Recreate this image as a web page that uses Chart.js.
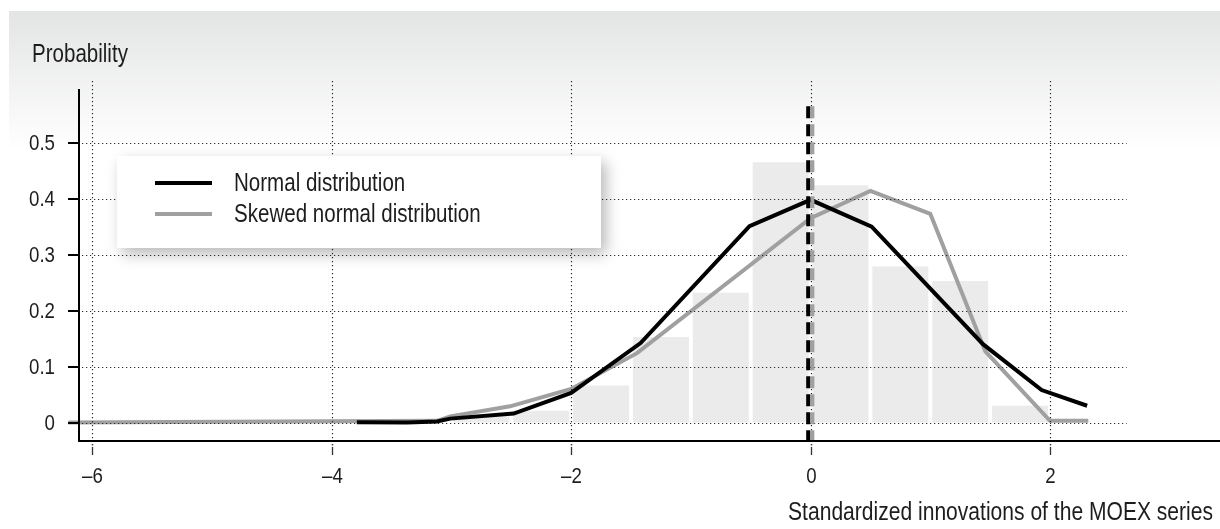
<!DOCTYPE html>
<html>
<head>
<meta charset="utf-8">
<script src="https://cdn.jsdelivr.net/npm/chart.js@4.4.1/dist/chart.umd.min.js"></script>
<style>
  html, body { margin: 0; padding: 0; background: #fff; }
  canvas { display: block; }
</style>
</head>
<body>
<canvas id="chart" width="1220" height="529"></canvas>
<script>
// Histogram of standardized innovations: bin centres (bin width 0.5) and probabilities
const binCenters = [-2.75, -2.25, -1.75, -1.25, -0.75, -0.25, 0.25, 0.75, 1.25, 1.75];
const binProb    = [0.011, 0.021, 0.066, 0.153, 0.232, 0.465, 0.424, 0.279, 0.253, 0.030];

// Fitted normal density
const normalX = [-3.79, -3.37, -3.12, -3.01, -2.48, -2.0, -1.42, -0.51, 0.0, 0.51, 1.44, 1.93, 2.31];
const normalP = [0.0005, 0.0, 0.002, 0.007, 0.016, 0.053, 0.142, 0.351, 0.398, 0.350, 0.140, 0.058, 0.030];

// Fitted skewed normal density
const skewX = [-6.2, -3.12, -3.01, -2.51, -2.0, -1.45, 0.0, 0.50, 1.0, 1.46, 2.0, 2.32];
const skewP = [0.0, 0.003, 0.011, 0.029, 0.060, 0.124, 0.365, 0.414, 0.373, 0.127, 0.003, 0.003];

// Means of the two fitted distributions, drawn as dashed verticals
const normalMean = -0.02;
const skewMean = 0.015;
const meanSpan = [0.565, -0.033];

// Axes
const xTicks = [-6, -4, -2, 0, 2];
const xTickLabels = ['–6', '–4', '–2', '0', '2'];
const yTicks = [0, 0.1, 0.2, 0.3, 0.4, 0.5];
const yTickLabels = ['0', '0.1', '0.2', '0.3', '0.4', '0.5'];
const xRange = [-6.111, 3.42];
const yRange = [-0.033, 0.6103];
const gridEndX = 2.64;

const seriesNames = ['Normal distribution', 'Skewed normal distribution'];
const yTitle = 'Probability';
const xTitle = 'Standardized innovations of the MOEX series';

const FONT = "'Liberation Sans', Arial, sans-serif";
const TEXT = '#1d1d1d';
const BLACK = '#000000';
const GREY = '#a0a0a0';
const BAR = '#eaebea';

const pairs = (xs, ys) => xs.map((x, i) => ({ x: x, y: ys[i] }));

// Draws horizontally condensed text (narrow grotesque look)
function condensedText(ctx, str, x, y, opts) {
  ctx.save();
  ctx.font = opts.size + 'px ' + FONT;
  ctx.textAlign = opts.align || 'left';
  ctx.textBaseline = opts.baseline || 'middle';
  ctx.fillStyle = opts.color || TEXT;
  ctx.translate(x, y);
  ctx.scale(opts.sx || 0.8, 1);
  ctx.fillText(str, 0, 0);
  ctx.restore();
}

function drawGrid(chart) {
  const { ctx, chartArea: a } = chart;
  const xs = chart.scales.x, ys = chart.scales.y;
  ctx.save();
  ctx.strokeStyle = '#2a2a2a';
  ctx.lineWidth = 1.2;
  ctx.setLineDash([1.2, 2.8]);
  xTicks.forEach(v => {
    const px = Math.round(xs.getPixelForValue(v)) + 0.5;
    ctx.beginPath();
    ctx.moveTo(px, a.top);
    ctx.lineTo(px, a.bottom);
    ctx.stroke();
  });
  const xEnd = xs.getPixelForValue(gridEndX);
  yTicks.forEach(v => {
    const py = Math.round(ys.getPixelForValue(v)) + 0.5;
    ctx.beginPath();
    ctx.moveTo(a.left + 3, py);
    ctx.lineTo(xEnd, py);
    ctx.stroke();
  });
  ctx.restore();
}

const decor = {
  id: 'decor',
  beforeDraw(chart) {
    const ctx = chart.ctx;
    ctx.save();
    ctx.fillStyle = '#ffffff';
    ctx.fillRect(0, 0, chart.width, chart.height);
    const g = ctx.createLinearGradient(0, 11, 0, 150);
    g.addColorStop(0, '#e3e4e4');
    g.addColorStop(1, '#ffffff');
    ctx.fillStyle = g;
    ctx.fillRect(9, 11, chart.width - 9, 139);
    ctx.restore();
  },
  afterDatasetDraw(chart, args) {
    if (args.index === 1) drawGrid(chart);
  },
  afterDraw(chart) {
    const { ctx, chartArea: a } = chart;
    const xs = chart.scales.x, ys = chart.scales.y;
    ctx.save();
    ctx.setLineDash([]);

    // axis lines
    ctx.strokeStyle = BLACK;
    ctx.lineWidth = 2;
    ctx.beginPath();
    ctx.moveTo(a.left, a.top + 8);
    ctx.lineTo(a.left, a.bottom + 1);
    ctx.stroke();
    ctx.beginPath();
    ctx.moveTo(a.left - 1, a.bottom);
    ctx.lineTo(a.right, a.bottom);
    ctx.stroke();

    // y ticks and labels
    yTicks.forEach((v, i) => {
      const py = Math.round(ys.getPixelForValue(v));
      ctx.beginPath();
      ctx.moveTo(a.left - 11, py);
      ctx.lineTo(a.left, py);
      ctx.stroke();
      condensedText(ctx, yTickLabels[i], a.left - 24, py + 1, { size: 22, sx: 0.85, align: 'right' });
    });

    // x ticks and labels
    ctx.strokeStyle = '#333';
    ctx.lineWidth = 1.3;
    xTicks.forEach((v, i) => {
      const px = Math.round(xs.getPixelForValue(v)) + 0.5;
      ctx.fillStyle = '#333';
      ctx.fillRect(px - 0.7, a.bottom + 3, 1.4, 1.4);
      ctx.beginPath();
      ctx.moveTo(px, a.bottom + 6);
      ctx.lineTo(px, a.bottom + 14);
      ctx.stroke();
      condensedText(ctx, xTickLabels[i], px, a.bottom + 36, { size: 22, sx: 0.85, align: 'center' });
    });

    // axis titles
    condensedText(ctx, yTitle, 32, 62, { size: 26, sx: 0.79, align: 'left', baseline: 'alphabetic' });
    condensedText(ctx, xTitle, 1213, 513, { size: 26, sx: 0.81, align: 'right' });

    // legend box with soft shadow
    ctx.save();
    ctx.shadowColor = 'rgba(0,0,0,0.28)';
    ctx.shadowBlur = 14;
    ctx.shadowOffsetX = 5;
    ctx.shadowOffsetY = 6;
    ctx.fillStyle = '#ffffff';
    ctx.fillRect(117, 156, 484, 92);
    ctx.restore();

    const rows = [
      { name: seriesNames[0], color: BLACK, y: 183 },
      { name: seriesNames[1], color: GREY, y: 214 }
    ];
    rows.forEach(r => {
      ctx.strokeStyle = r.color;
      ctx.lineWidth = 4;
      ctx.beginPath();
      ctx.moveTo(155, r.y);
      ctx.lineTo(212, r.y);
      ctx.stroke();
      condensedText(ctx, r.name, 234, r.y + 1, { size: 26, sx: 0.79, align: 'left' });
    });
    ctx.restore();
  }
};

new Chart(document.getElementById('chart'), {
  type: 'line',
  data: {
    datasets: [
      {
        type: 'bar',
        label: 'Histogram',
        data: pairs(binCenters, binProb),
        backgroundColor: BAR,
        borderWidth: 0,
        barPercentage: 0.935,
        categoryPercentage: 1,
        order: 5
      },
      {
        type: 'line',
        label: seriesNames[1],
        data: pairs(skewX, skewP),
        borderColor: GREY,
        borderWidth: 4,
        pointRadius: 0,
        tension: 0,
        clip: false,
        order: 4
      },
      {
        type: 'line',
        label: seriesNames[0],
        data: pairs(normalX, normalP),
        borderColor: BLACK,
        borderWidth: 4,
        pointRadius: 0,
        tension: 0,
        order: 2
      },
      {
        type: 'line',
        label: 'Skewed mean',
        data: meanSpan.map(v => ({ x: skewMean, y: v })),
        borderColor: GREY,
        borderWidth: 4,
        borderDash: [12, 6],
        borderCapStyle: 'butt',
        pointRadius: 0,
        order: 1
      },
      {
        type: 'line',
        label: 'Normal mean',
        data: meanSpan.map(v => ({ x: normalMean, y: v })),
        borderColor: BLACK,
        borderWidth: 4,
        borderDash: [12, 6],
        borderCapStyle: 'butt',
        pointRadius: 0,
        order: 0
      }
    ]
  },
  options: {
    responsive: false,
    animation: false,
    devicePixelRatio: 1,
    layout: { padding: { left: 79, right: 0, top: 81, bottom: 88 } },
    scales: {
      x: { type: 'linear', display: false, min: xRange[0], max: xRange[1], offset: false },
      y: { type: 'linear', display: false, min: yRange[0], max: yRange[1] }
    },
    plugins: {
      legend: { display: false },
      tooltip: { enabled: false }
    }
  },
  plugins: [decor]
});
</script>
</body>
</html>
